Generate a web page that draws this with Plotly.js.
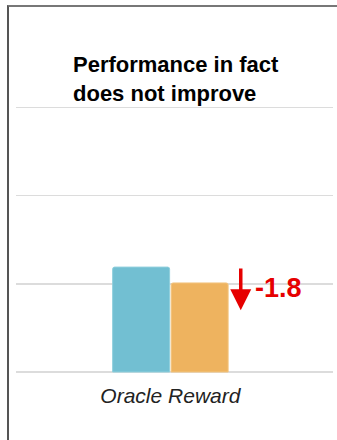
<!DOCTYPE html>
<html>
<head>
<meta charset="utf-8">
<script src="https://cdn.plot.ly/plotly-3.0.1.min.js"></script>
<style>
  html, body { margin: 0; padding: 0; background: #fff; }
  #wrap { position: relative; width: 337px; height: 440px; overflow: hidden; }
  #chart { position: absolute; left: 0; top: 0; width: 337px; height: 440px; }
  /* panel frame: top and left edges only */
  #frame {
    position: absolute; left: 7px; top: 5px; width: 340px; height: 440px;
    border-top: 2px solid #777; border-left: 2px solid #555;
    pointer-events: none;
  }
</style>
</head>
<body>
<div id="wrap">
  <div id="chart"></div>
  <div id="frame"></div>
</div>
<script>
// Oracle reward before and after
const categories = ['Oracle Reward'];
const beforeValues = [11.9];
const afterValues = [10.1];
const gridTicks = [0, 10, 20, 30];

const change = afterValues[0] - beforeValues[0];
const changeLabel = change.toFixed(1);

const font = 'Arial, "Liberation Sans", sans-serif';

const traces = [
  {
    type: 'bar', name: 'before', x: categories, y: beforeValues,
    marker: { color: '#72bfd2', cornerradius: 2, line: { color: '#8fcfdd', width: 1 } },
    hoverinfo: 'none'
  },
  {
    type: 'bar', name: 'after', x: categories, y: afterValues,
    marker: { color: '#eeb35f', cornerradius: 2, line: { color: '#f3c47f', width: 1 } },
    hoverinfo: 'none'
  }
];

const layout = {
  width: 337, height: 440,
  margin: { l: 16, r: 4, t: 100, b: 66 },
  paper_bgcolor: '#fff', plot_bgcolor: '#fff',
  showlegend: false,
  barmode: 'group',
  bargap: 0.631,
  bargroupgap: 0.026,
  title: {
    text: '<b>Performance in fact<br>does not improve</b>',
    font: { family: font, size: 22, color: '#000' },
    xref: 'container', x: 73 / 337, xanchor: 'left',
    yref: 'container', y: 1 - 72 / 440, yanchor: 'top'
  },
  xaxis: {
    type: 'category',
    range: [-0.487, 0.513],
    showgrid: false, zeroline: false, showline: false, ticks: '',
    tickfont: { family: font, size: 21, color: '#222', style: 'italic' },
    ticklabelstandoff: 7
  },
  yaxis: {
    range: [-0.227, 30.85],
    tickvals: gridTicks,
    showticklabels: false,
    showgrid: true, gridcolor: '#dcdcdc', gridwidth: 1.5,
    zeroline: false, showline: false, ticks: ''
  },
  annotations: [
    {
      // downward arrow from the earlier level
      x: 0.222, y: afterValues[0] - 3.1, xref: 'x', yref: 'y',
      ax: 0.222, ay: beforeValues[0], axref: 'x', ayref: 'y',
      text: '', showarrow: true,
      arrowcolor: '#e60000', arrowwidth: 3.5, arrowhead: 2, arrowsize: 1.2,
      standoff: 0, startstandoff: 0
    },
    {
      x: 0.26, y: afterValues[0] - 0.6, xref: 'x', yref: 'y',
      xanchor: 'left', yanchor: 'middle',
      text: '<b>' + changeLabel + '</b>', showarrow: false,
      font: { family: font, size: 27, color: '#e60000' }
    }
  ]
};

Plotly.newPlot('chart', traces, layout, { staticPlot: true, displayModeBar: false });
</script>
</body>
</html>
